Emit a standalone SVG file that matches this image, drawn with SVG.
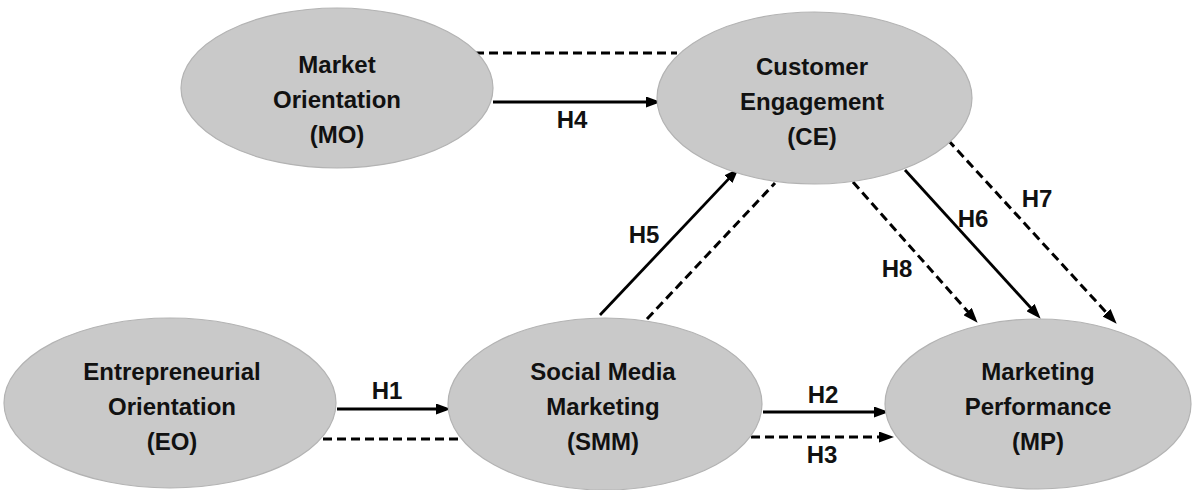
<svg xmlns="http://www.w3.org/2000/svg" width="1194" height="490" viewBox="0 0 1194 490">
<defs>
<style>
.node ellipse{fill:#c9c9c9;stroke:#b3b3b3;stroke-width:1.2}
.node text{font-family:"Liberation Sans",Arial,sans-serif;font-weight:bold;font-size:24px;fill:#111;text-anchor:middle}
.lbl{font-family:"Liberation Sans",Arial,sans-serif;font-weight:bold;font-size:24px;fill:#111;text-anchor:middle}
.solid{stroke:#000;stroke-width:2.8;fill:none}
.dash{stroke:#000;stroke-width:3;fill:none;stroke-dasharray:9 5}
</style>
<marker id="ah" markerUnits="userSpaceOnUse" markerWidth="15" markerHeight="11" refX="10" refY="5.5" orient="auto">
<path d="M0,0 L15,5.5 L0,11 z" fill="#000"/>
</marker>
</defs>
<rect width="1194" height="490" fill="#fff"/>
<g id="connectors">
<line class="dash" x1="475" y1="53" x2="677" y2="53"/>
<line class="solid" x1="493" y1="102" x2="656" y2="102" marker-end="url(#ah)"/>
<line class="solid" x1="600" y1="315" x2="735.3" y2="171.9" marker-end="url(#ah)"/>
<line class="dash" x1="647" y1="319" x2="775" y2="183"/>
<line class="dash" x1="853" y1="182" x2="974.3" y2="319" marker-end="url(#ah)"/>
<line class="solid" x1="905" y1="170" x2="1037.3" y2="315" marker-end="url(#ah)"/>
<line class="dash" x1="948" y1="140" x2="1113.3" y2="320.1" marker-end="url(#ah)"/>
<line class="solid" x1="337" y1="409" x2="446" y2="409" marker-end="url(#ah)"/>
<line class="dash" x1="323" y1="439" x2="462" y2="439"/>
<line class="solid" x1="763" y1="412" x2="884" y2="412" marker-end="url(#ah)"/>
<line class="dash" x1="751" y1="437" x2="889" y2="437" marker-end="url(#ah)"/>
<text class="lbl" x="572" y="128">H4</text>
<text class="lbl" x="644" y="243">H5</text>
<text class="lbl" x="897" y="277">H8</text>
<text class="lbl" x="973" y="227">H6</text>
<text class="lbl" x="1037" y="207">H7</text>
<text class="lbl" x="387" y="399">H1</text>
<text class="lbl" x="823" y="403">H2</text>
<text class="lbl" x="822" y="463">H3</text>
</g>
<g id="node-mo" class="node">
<ellipse cx="337" cy="88" rx="156" ry="80"/>
<text x="337" y="73">Market</text>
<text x="337" y="108">Orientation</text>
<text x="337" y="143">(MO)</text>
</g>
<g id="node-ce" class="node">
<ellipse cx="814.5" cy="98" rx="157.5" ry="86"/>
<text x="812" y="75">Customer</text>
<text x="812" y="110">Engagement</text>
<text x="812" y="145">(CE)</text>
</g>
<g id="node-eo" class="node">
<ellipse cx="170" cy="403" rx="166" ry="85"/>
<text x="172" y="380">Entrepreneurial</text>
<text x="172" y="415">Orientation</text>
<text x="172" y="450">(EO)</text>
</g>
<g id="node-smm" class="node">
<ellipse cx="605" cy="404" rx="157" ry="86"/>
<text x="603" y="380">Social Media</text>
<text x="603" y="415">Marketing</text>
<text x="603" y="450">(SMM)</text>
</g>
<g id="node-mp" class="node">
<ellipse cx="1038" cy="404" rx="153" ry="85"/>
<text x="1038" y="380">Marketing</text>
<text x="1038" y="415">Performance</text>
<text x="1038" y="450">(MP)</text>
</g>
</svg>
